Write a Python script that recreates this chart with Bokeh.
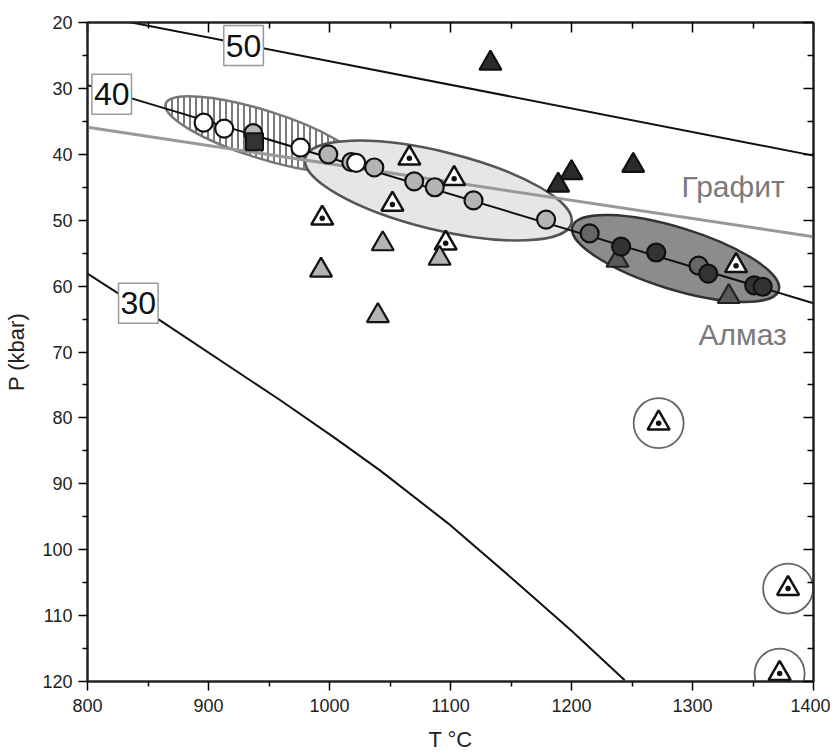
from bokeh.plotting import figure
from bokeh.models import Range1d, FixedTicker, LinearAxis
from bokeh.core.properties import value
from bokeh.embed import file_html
from bokeh.resources import INLINE

# ---------------- data ----------------
# isopleth lines (T in °C, P in kbar)
iso50_T = [800, 1400]
iso50_P = [18.7, 40.2]
iso40_T = [800, 1400]
iso40_P = [29.5, 62.6]
iso30_T = [800, 860, 960, 1004, 1042, 1098, 1153, 1200, 1244]
iso30_P = [58.1, 65.2, 77.4, 83.0, 88.0, 96.0, 104.7, 112.3, 119.8]
gd_T = [800, 1400]          # graphite-diamond boundary
gd_P = [35.9, 52.5]

iso_lbl_T = [929, 820, 842]
iso_lbl_P = [23.5, 30.9, 62.6]
iso_lbl = ["50", "40", "30"]

phase_lbl_T = [1291, 1305]
phase_lbl_P = [44.9, 67.3]
phase_lbl = ["Графит", "Алмаз"]

# field ellipses (centres)
ell_hatch_T, ell_hatch_P = [945], [37.0]
ell_light_T, ell_light_P = [1090], [45.5]
ell_dark_T, ell_dark_P = [1286], [55.8]

# circles
white_c_T = [896, 913, 976, 1022]
white_c_P = [35.2, 36.1, 39.0, 41.3]
gray_c_T = [937, 999, 1018, 1037, 1070, 1087, 1119, 1179]
gray_c_P = [36.8, 40.0, 41.2, 42.0, 44.1, 45.0, 47.0, 49.9]
mid_c_T = [1215, 1305]
mid_c_P = [52.0, 56.9]
dark_c_T = [1241, 1270, 1313, 1351, 1358]
dark_c_P = [54.0, 54.9, 58.1, 59.9, 60.1]
sq_T = [938]
sq_P = [38.1]

# triangles
dot_t_T = [1066, 1103, 1052, 994, 1096, 1336, 1272, 1379, 1372]
dot_t_P = [40.6, 43.7, 47.6, 49.7, 53.5, 56.9, 80.8, 105.9, 118.8]
ring_T = [1272, 1379, 1372]
ring_P = [80.8, 105.9, 118.8]
light_t_T = [1044, 993, 1040, 1091]
light_t_P = [53.6, 57.6, 64.5, 55.8]
mid_t_T = [1238, 1330]
mid_t_P = [56.1, 61.6]
dark_t_T = [1133, 1251, 1200, 1189]
dark_t_P = [26.2, 41.7, 42.8, 44.7]

x_ticks = [800, 900, 1000, 1100, 1200, 1300, 1400]
x_minor = [850, 950, 1050, 1150, 1250, 1350]
y_ticks = [20, 30, 40, 50, 60, 70, 80, 90, 100, 110, 120]
y_minor = [25, 35, 45, 55, 65, 75, 85, 95, 105, 115]

# ---------------- figure ----------------
FONT = "Liberation Sans"
p = figure(width=830, height=754, output_backend="svg", toolbar_location=None,
           x_range=Range1d(800, 1400), y_range=Range1d(120, 20),
           min_border_left=87, min_border_right=17, min_border_top=22, min_border_bottom=73,
           x_axis_label="T °C", y_axis_label="P (kbar)")
p.xgrid.visible = False
p.ygrid.visible = False
p.outline_line_color = "#222222"
p.outline_line_width = 2

for ax, tk, mn in ((p.xaxis[0], x_ticks, x_minor), (p.yaxis[0], y_ticks, y_minor)):
    ax.ticker = FixedTicker(ticks=tk, minor_ticks=mn)
    ax.major_tick_out = 9
    ax.major_tick_in = 0
    ax.minor_tick_out = 5
    ax.minor_tick_in = 0
    ax.axis_line_width = 2
    ax.axis_line_color = "#222222"
    ax.major_tick_line_width = 1.5
    ax.minor_tick_line_width = 1.5
    ax.major_label_text_font = FONT
    ax.major_label_text_font_size = "18px"
    ax.major_label_text_color = "#222222"
    ax.axis_label_text_font = FONT
    ax.axis_label_text_font_style = "normal"
    ax.axis_label_text_font_size = "22px"
    ax.axis_label_text_color = "#222222"
p.xaxis.major_label_standoff = 8
p.xaxis.axis_label_standoff = 12
p.yaxis.major_label_standoff = 6
p.yaxis.axis_label_standoff = 10

for loc, tk, mn in (("above", x_ticks, x_minor), ("right", y_ticks, y_minor)):
    ax = LinearAxis(ticker=FixedTicker(ticks=tk, minor_ticks=mn),
                    major_label_overrides={t: "" for t in tk},
                    major_tick_in=10, major_tick_out=0, minor_tick_in=6, minor_tick_out=0,
                    major_label_standoff=0,
                    axis_line_width=2, axis_line_color="#222222",
                    major_tick_line_width=1.5, minor_tick_line_width=1.5)
    p.add_layout(ax, loc)

# ellipses (screen sizes)
p.ellipse(ell_hatch_T, ell_hatch_P, width=204, height=48, angle=-0.305,
          width_units="screen", height_units="screen",
          fill_color="white", line_color="#777777", line_width=2.5,
          hatch_pattern="vertical_line", hatch_color="#7a7a7a", hatch_scale=6, hatch_weight=2)
p.ellipse(ell_light_T, ell_light_P, width=274, height=78, angle=-0.24,
          width_units="screen", height_units="screen",
          fill_color="#e6e6e6", line_color="#555555", line_width=2.5)
p.ellipse(ell_dark_T, ell_dark_P, width=216, height=62, angle=-0.30,
          width_units="screen", height_units="screen",
          fill_color="#8c8c8c", line_color="#333333", line_width=2.5)

# lines
p.line(gd_T, gd_P, line_color="#999999", line_width=3)
p.line(iso50_T, iso50_P, line_color="#111111", line_width=2)
p.line(iso40_T, iso40_P, line_color="#111111", line_width=2)
p.line(iso30_T, iso30_P, line_color="#111111", line_width=2)

# isopleth labels
p.text(iso_lbl_T, iso_lbl_P, text=iso_lbl, text_font=value(FONT), text_font_size="32px",
       text_align="center", text_baseline="middle", text_color="#111111",
       background_fill_color="white", border_line_color="#999999", border_line_width=1.5,
       padding=dict(x=2, y=9))
p.text(phase_lbl_T, phase_lbl_P, text=phase_lbl, text_font=value(FONT), text_font_size="30px",
       text_align="left", text_baseline="middle", text_color="#7a7a7a")

# triangles
p.scatter(ring_T, ring_P, marker="circle", size=50, fill_color=None,
          line_color="#666666", line_width=1.8)
p.scatter(dot_t_T, dot_t_P, marker="triangle_dot", size=22, fill_color="white",
          line_color="#111111", line_width=2.5)
p.scatter(light_t_T, light_t_P, marker="triangle", size=22, fill_color="#b4b4b4",
          line_color="#111111", line_width=2.2)
p.scatter(mid_t_T, mid_t_P, marker="triangle", size=22, fill_color="#5a5a5a",
          line_color="#222222", line_width=2.2)
p.scatter(dark_t_T, dark_t_P, marker="triangle", size=22, fill_color="#2b2b2b",
          line_color="#111111", line_width=2.2)

# circles
p.scatter(gray_c_T, gray_c_P, marker="circle", size=18, fill_color="#b4b4b4",
          line_color="#111111", line_width=2.2)
p.scatter(white_c_T, white_c_P, marker="circle", size=18, fill_color="white",
          line_color="#111111", line_width=2.2)
p.scatter(mid_c_T, mid_c_P, marker="circle", size=18, fill_color="#666666",
          line_color="#111111", line_width=2.2)
p.scatter(dark_c_T, dark_c_P, marker="circle", size=18, fill_color="#333333",
          line_color="#111111", line_width=2.2)
p.scatter(sq_T, sq_P, marker="square", size=17, fill_color="#333333",
          line_color="#111111", line_width=2)

open("out.html", "w").write(file_html(p, INLINE))
